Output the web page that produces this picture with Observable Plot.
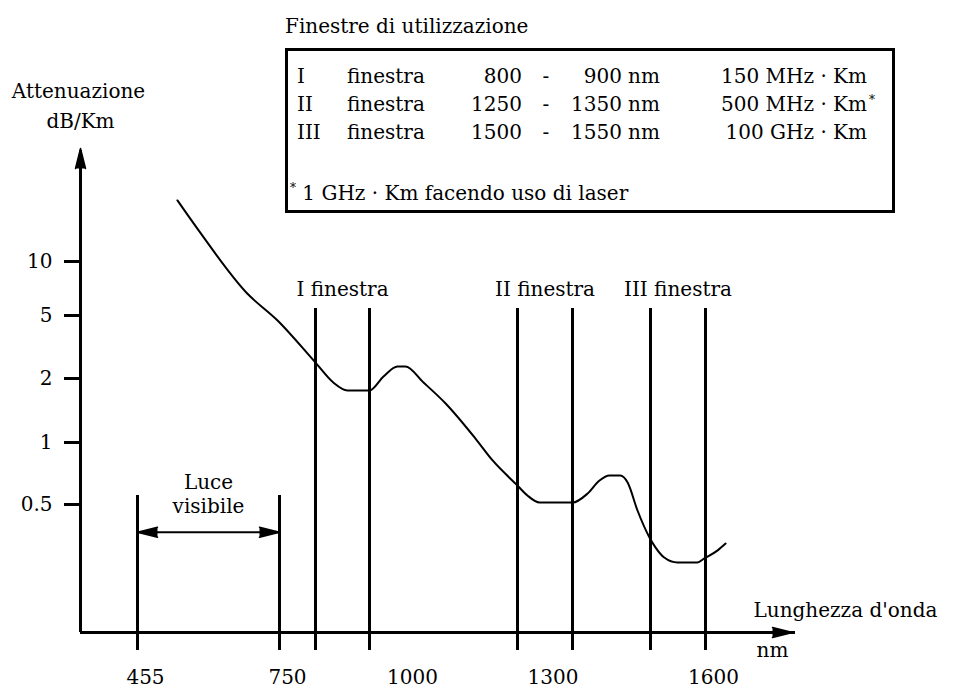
<!DOCTYPE html>
<html><head><meta charset="utf-8">
<script src="https://cdn.jsdelivr.net/npm/d3@7"></script>
<script src="https://cdn.jsdelivr.net/npm/@observablehq/plot@0.6"></script>
<style>
body{margin:0;background:#fff;}
#wrap{position:relative;width:954px;height:691px;font-family:"DejaVu Serif",serif;font-size:20px;color:#000;}
#wrap svg{position:absolute;left:0;top:0;}
.t{position:absolute;white-space:nowrap;transform:translateY(-50%);line-height:1;}
.r{transform:translate(-100%,-50%);}
.c{transform:translate(-50%,-50%);}
#box{position:absolute;left:285px;top:48px;width:604px;height:159px;border:3px solid #000;}
sup{font-size:12px;vertical-align:8px;}
</style></head><body><div id="wrap"></div>
<script>
// ---- data ----
const windowNames = ["I", "II", "III"];
const tableStart = ["800", "1250", "1500"];
const tableEnd = ["900", "1350", "1550"];
const bandwidth = ["150 MHz · Km", "500 MHz · Km", "100 GHz · Km"];
const bandwidthNote = ["", "*", ""];
const footnote = "1 GHz · Km facendo uso di laser";
const windowLines = [800, 900, 1250, 1350, 1500, 1600];
const visibleRange = [455, 750];
const visibleArrowLevel = 0.41;
const xTickValues = [455, 750, 800, 900, 1250, 1350, 1500, 1600];
const xTickLabels = [455, 750, 1000, 1300, 1600];
const yTicks = [0.5, 1, 2, 5, 10];
const wavelength = [538, 582, 683, 746, 800, 833, 859, 900, 940, 980, 1002, 1042, 1091, 1157, 1195, 1250, 1268, 1290, 1350, 1379, 1402, 1421, 1442, 1456, 1475, 1498, 1509, 1525, 1549, 1585, 1598, 1623, 1638];
const attenuation = [18.3, 13.6, 6.63, 4.65, 2.52, 1.915, 1.757, 1.757, 2.059, 2.381, 2.381, 1.915, 1.526, 1.044, 0.818, 0.618, 0.553, 0.511, 0.511, 0.565, 0.654, 0.691, 0.691, 0.639, 0.479, 0.395, 0.368, 0.342, 0.330, 0.330, 0.340, 0.360, 0.378];

// ---- schematic (non-uniform) scale knots ----
const xKnots = [340, 455, 750, 800, 900, 1000, 1250, 1350, 1500, 1600, 1770];
const xKnotsPx = [80, 137, 279, 315, 369, 404, 517, 572, 650, 705, 795];
const yKnots = [0.2, 0.5, 1, 2, 5, 10, 30];
const yKnotsPx = [632, 504, 442, 378, 315, 261, 150];

const curve = wavelength.map((w, i) => ({w, a: attenuation[i]}));
const windowLabels = windowNames.map((n, i) => ({mid: (windowLines[2*i] + windowLines[2*i+1]) / 2, label: n + " finestra"}));
const font = '"DejaVu Serif", serif';

const chart = Plot.plot({
  width: 954, height: 691,
  marginTop: 150, marginLeft: 80, marginBottom: 59, marginRight: 159,
  style: {fontFamily: font, fontSize: "20px", background: "transparent", color: "#000"},
  x: {type: "linear", domain: xKnots, range: xKnotsPx},
  y: {type: "log", domain: yKnots, range: yKnotsPx},
  marks: [
    Plot.ruleX(windowLines, {strokeWidth: 3, insetTop: 158}),
    Plot.ruleX(visibleRange, {strokeWidth: 3, insetTop: 345}),
    Plot.ruleX([xKnots[0]], {strokeWidth: 3}),
    Plot.ruleY([yKnots[0]], {strokeWidth: 3}),
    Plot.vector([xKnots[0]], {x: d => d, frameAnchor: "top", shape: "spike", anchor: "end", length: 20, r: 5, rotate: 0, fill: "black", stroke: "black", dy: -2}),
    Plot.vector([xKnots[xKnots.length - 1]], {x: d => d, y: () => yKnots[0], shape: "spike", anchor: "end", length: 20, r: 5, rotate: 90, fill: "black", stroke: "black", dx: -3}),
    Plot.ruleY([visibleArrowLevel], {x1: visibleRange[0], x2: visibleRange[1], strokeWidth: 2}),
    Plot.vector(visibleRange, {x: d => d, y: () => visibleArrowLevel, rotate: (d, i) => i === 0 ? -90 : 90, shape: "spike", anchor: "end", length: 20, r: 5, fill: "black", stroke: "black"}),
    Plot.line(curve, {x: "w", y: "a", strokeWidth: 2, curve: "monotone-x"}),
    Plot.axisY(yTicks, {tickSize: 16, tickPadding: 12, strokeWidth: 3, tickFormat: d => String(d), label: null, fontSize: 20}),
    Plot.axisX(xTickValues, {tickSize: 18, strokeWidth: 3, tickFormat: () => "", label: null}),
    Plot.axisX(xTickLabels, {tickSize: 0, tickPadding: 37, dx: 8, tickFormat: d => String(d), label: null, fontSize: 20}),
    Plot.text(windowLabels, {x: "mid", text: "label", frameAnchor: "top", dy: 131, fontSize: 20}),
    Plot.text([(visibleRange[0] + visibleRange[1]) / 2], {x: d => d, text: () => "Luce\nvisibile", frameAnchor: "top", dy: 321, lineHeight: 1.2, fontSize: 20}),
    Plot.text(["Attenuazione"], {text: d => d, frameAnchor: "top-left", dx: -2, dy: -67, textAnchor: "middle", fontSize: 20}),
    Plot.text(["dB/Km"], {text: d => d, frameAnchor: "top-left", dx: 0, dy: -37, textAnchor: "middle", fontSize: 20}),
    Plot.text(["Lunghezza d'onda"], {text: d => d, frameAnchor: "bottom-right", dx: -42, dy: -16, textAnchor: "start", fontSize: 20}),
    Plot.text(["nm"], {text: d => d, frameAnchor: "bottom-right", dx: -39, dy: 24, textAnchor: "start", fontSize: 20})
  ]
});

const wrap = document.getElementById("wrap");
wrap.appendChild(chart);

function put(text, x, y, cls) {
  const s = document.createElement("span");
  s.className = "t" + (cls ? " " + cls : "");
  s.style.left = x + "px"; s.style.top = y + "px";
  s.innerHTML = text;
  wrap.appendChild(s);
  return s;
}
const box = document.createElement("div"); box.id = "box"; wrap.appendChild(box);
put("Finestre di utilizzazione", 285, 26);
const rowY = [76, 104, 132];
windowNames.forEach((n, i) => {
  const y = rowY[i];
  put(n, 297, y);
  put("finestra", 347, y);
  put(tableStart[i], 522, y, "r");
  put("-", 546, y, "c");
  put(tableEnd[i], 622, y, "r");
  put("nm", 628, y);
  put(bandwidth[i], 867, y, "r");
  if (bandwidthNote[i]) put("<sup>" + bandwidthNote[i] + "</sup>", 869, y);
});
put("<sup>*</sup> " + footnote, 290, 192);
</script></body></html>
